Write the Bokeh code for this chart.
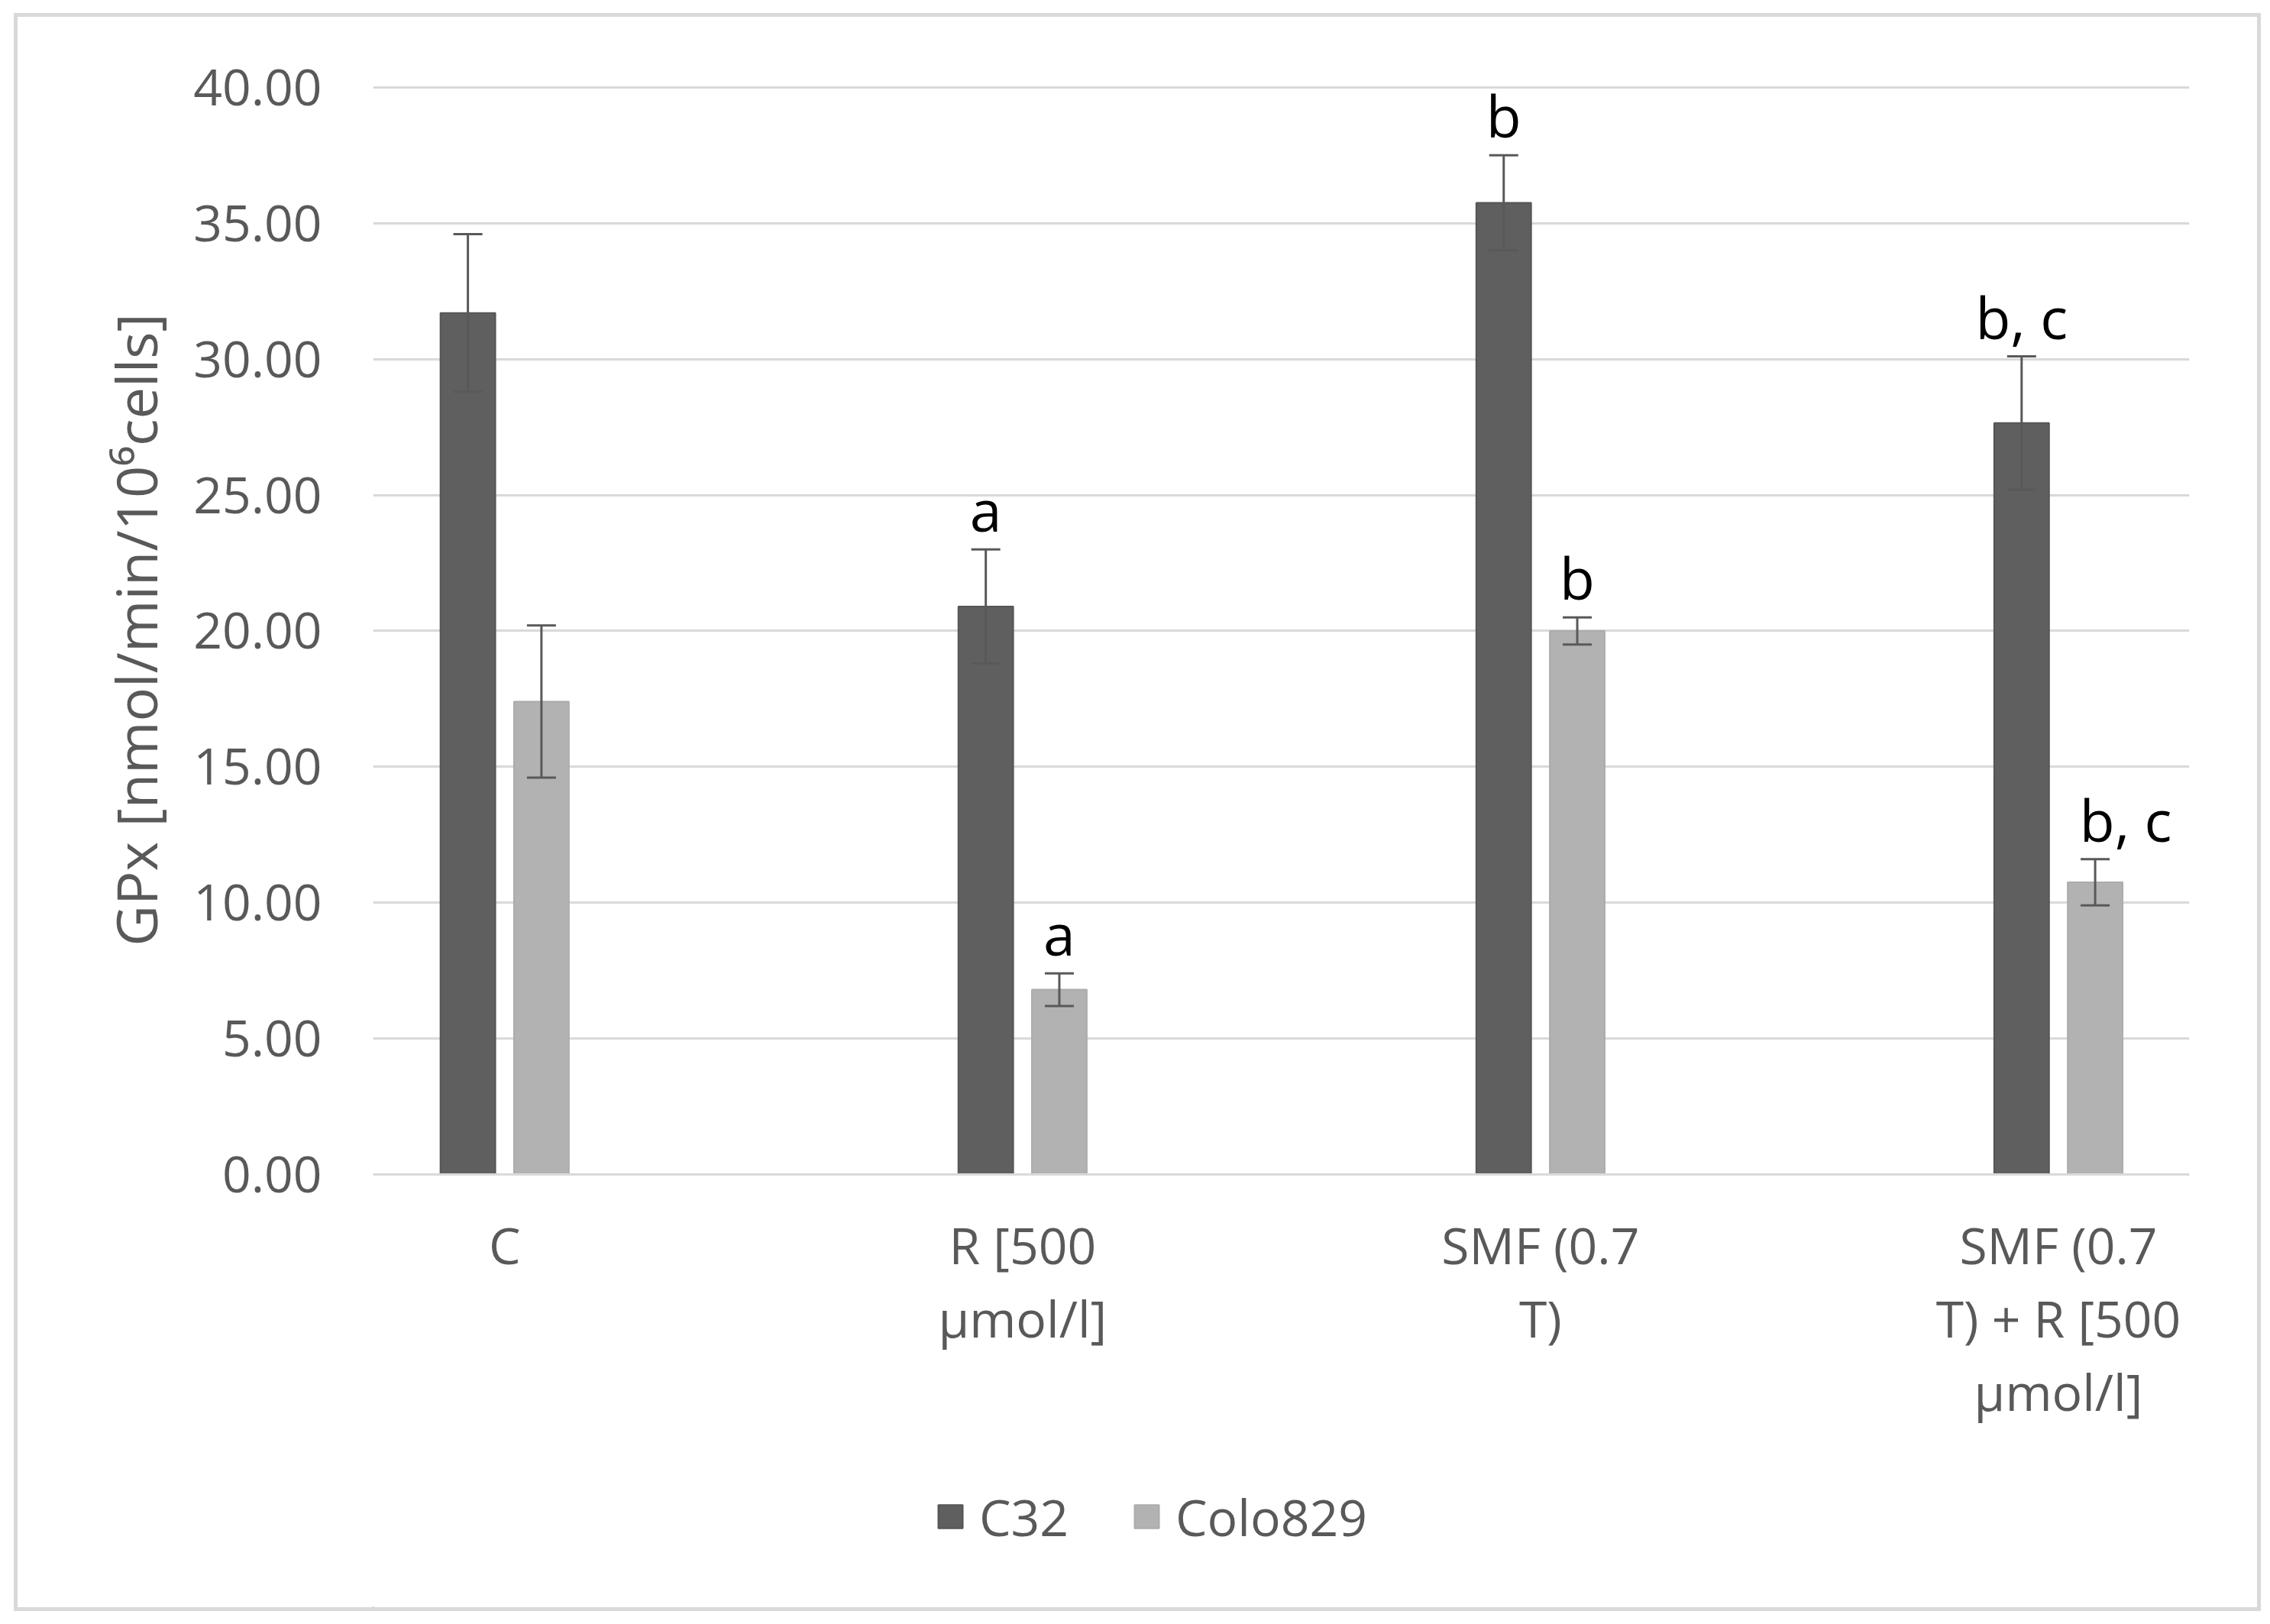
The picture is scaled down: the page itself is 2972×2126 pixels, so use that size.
from bokeh.plotting import figure
from bokeh.layouts import column
from bokeh.models import (Range1d, FixedTicker, NumeralTickFormatter, ColumnDataSource,
                          Whisker, TeeHead, Legend, LegendItem)
from bokeh.core.properties import value
from bokeh.embed import file_html
from bokeh.resources import INLINE

# ---- data ----
categories = ["C", "R [500 μmol/l]", "SMF (0.7 T)", "SMF (0.7 T) + R [500 μmol/l]"]
tick_labels = ["C", "R [500\nμmol/l]", "SMF (0.7\nT)", "SMF (0.7\nT) + R [500\nμmol/l]"]
series_names = ["C32", "Colo829"]
c32_values = [31.7, 20.9, 35.75, 27.65]
c32_errors = [2.9, 2.1, 1.75, 2.45]
colo_values = [17.4, 6.8, 20.0, 10.75]
colo_errors = [2.8, 0.6, 0.5, 0.85]
c32_letters = ["", "a", "b", "b, c"]
colo_letters = ["", "a", "b", "b, c"]
y_ticks = [0, 5, 10, 15, 20, 25, 30, 35, 40]

# ---- style ----
FONT = "Open Sans"
GREY_TXT = "#595959"
GRID = "#d9d9d9"
C32_COL = "#5f5f5f"
COLO_COL = "#b2b2b2"
OFFSET = 0.071
BAR_W = 0.106

W, H1, H2 = 2932, 1877, 205
p = figure(width=W, height=H1, output_backend="svg", toolbar_location=None,
           x_range=Range1d(-0.254, 3.253), y_range=Range1d(0, 40.08),
           min_border_left=465, min_border_right=89, min_border_top=89,
           min_border_bottom=362)
p.background_fill_color = "white"
p.border_fill_color = "white"
p.outline_line_color = None

idx = list(range(len(categories)))
src1 = ColumnDataSource(dict(
    x=[i - OFFSET for i in idx], top=c32_values,
    upper=[v + e for v, e in zip(c32_values, c32_errors)],
    lower=[v - e for v, e in zip(c32_values, c32_errors)],
    label=c32_letters, xo=[0, 0, 0, 0]))
src2 = ColumnDataSource(dict(
    x=[i + OFFSET for i in idx], top=colo_values,
    upper=[v + e for v, e in zip(colo_values, colo_errors)],
    lower=[v - e for v, e in zip(colo_values, colo_errors)],
    label=colo_letters, xo=[0, 0, 0, 40]))

bar_styles = [dict(fill_color=C32_COL, line_color="#555555", line_width=2),
              dict(fill_color=COLO_COL, line_color="#acacac", line_width=2)]

for s, st in zip((src1, src2), bar_styles):
    p.vbar(x="x", top="top", width=BAR_W, source=s, **st)

for s in (src1, src2):
    w = Whisker(base="x", upper="upper", lower="lower", source=s, level="overlay",
                line_color=GREY_TXT, line_width=3,
                upper_head=TeeHead(size=38, line_color=GREY_TXT, line_width=3),
                lower_head=TeeHead(size=38, line_color=GREY_TXT, line_width=3))
    p.add_layout(w)
    p.text(x="x", y="upper", text="label", source=s, x_offset="xo", y_offset=-52,
           text_align="center", text_baseline="alphabetic",
           text_font=value(FONT), text_font_size="75px", text_color="black")

# axes
p.xgrid.grid_line_color = None
p.ygrid.grid_line_color = GRID
p.ygrid.grid_line_width = 3
p.ygrid.ticker = FixedTicker(ticks=y_ticks)

p.yaxis.ticker = FixedTicker(ticks=y_ticks)
p.yaxis.formatter = NumeralTickFormatter(format="0.00")
p.yaxis.axis_line_color = None
p.yaxis.major_tick_line_color = None
p.yaxis.minor_tick_line_color = None
p.yaxis.major_tick_out = 0
p.yaxis.major_label_standoff = 67
p.yaxis.major_label_text_font = FONT
p.yaxis.major_label_text_font_size = "66px"
p.yaxis.major_label_text_color = GREY_TXT
p.yaxis.axis_label = "GPx [nmol/min/10⁶cells]"
p.yaxis.axis_label_text_font = FONT
p.yaxis.axis_label_text_font_size = "74px"
p.yaxis.axis_label_text_font_style = "normal"
p.yaxis.axis_label_text_color = GREY_TXT
p.yaxis.axis_label_standoff = 22

p.xaxis.ticker = FixedTicker(ticks=idx)
p.xaxis.major_label_overrides = {i: t for i, t in zip(idx, tick_labels)}
p.xaxis.axis_line_color = GRID
p.xaxis.axis_line_width = 3
p.xaxis.major_tick_line_color = None
p.xaxis.minor_tick_line_color = None
p.xaxis.major_tick_out = 0
p.xaxis.major_label_standoff = 46
p.xaxis.major_label_text_font = FONT
p.xaxis.major_label_text_font_size = "66px"
p.xaxis.major_label_text_color = GREY_TXT
p.xaxis.major_label_text_line_height = 1.07

# legend strip below the chart (its renderers share the series sources, range keeps them out of view)
q = figure(width=W, height=H2, output_backend="svg", toolbar_location=None,
           x_range=Range1d(100, 101), y_range=Range1d(100, 101),
           min_border=0, min_border_left=465, min_border_right=89,
           min_border_top=0, min_border_bottom=0)
q.axis.visible = False
q.grid.visible = False
q.outline_line_color = None
q.background_fill_color = "white"
q.border_fill_color = "white"
leg_r = [q.vbar(x="x", top="top", width=BAR_W, source=s, **st)
         for s, st in zip((src1, src2), bar_styles)]
legend = Legend(items=[LegendItem(label=n, renderers=[r]) for n, r in zip(series_names, leg_r)],
                location=(736, 74), orientation="horizontal",
                glyph_width=40, glyph_height=38, label_standoff=18, spacing=82,
                padding=0, margin=0, border_line_color=None,
                background_fill_alpha=0,
                label_text_font=FONT, label_text_font_size="66px",
                label_text_color=GREY_TXT)
q.add_layout(legend, "center")

layout = column(p, q, spacing=0)
layout.margin = (22, 0, 0, 23)
layout.styles = {"outline": "5px solid #d9d9d9"}

open("out.html", "w").write(file_html(layout, INLINE))
